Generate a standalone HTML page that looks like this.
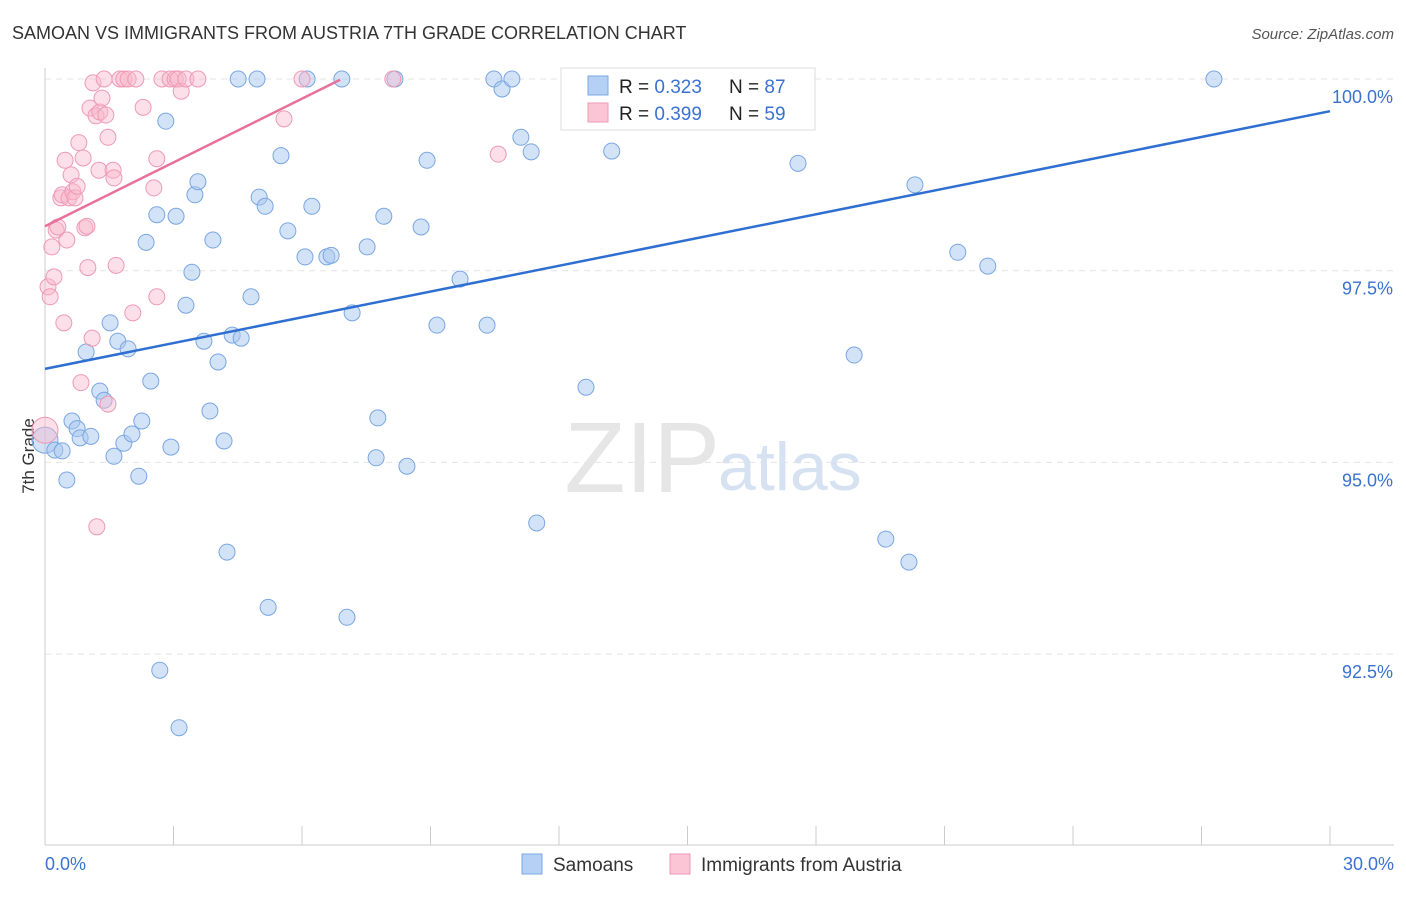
<!DOCTYPE html>
<html><head><meta charset="utf-8"><style>
body{margin:0;background:#fff;font-family:"Liberation Sans",sans-serif;}
svg text{font-family:"Liberation Sans",sans-serif;}
</style></head><body>
<svg id="chart" width="1406" height="892">
<text x="12" y="39" font-size="18" fill="#333">SAMOAN VS IMMIGRANTS FROM AUSTRIA 7TH GRADE CORRELATION CHART</text>
<text x="1394" y="39" font-size="15" fill="#555" text-anchor="end" font-style="italic">Source: ZipAtlas.com</text>
<text x="34" y="456" font-size="17" fill="#333" transform="rotate(-90 34 456)" text-anchor="middle">7th Grade</text>
<g id="grid"></g>
<text x="720" y="492" font-size="100" fill="#e6e6e6" text-anchor="end" font-family="Liberation Serif">ZIP</text>
<text x="718" y="490" font-size="68" fill="#d6e2f2">atlas</text>
<g id="pts"></g>
<g id="lines"></g>
<g>
<rect x="561" y="68" width="254" height="62" fill="#fff" stroke="#ddd"/>
<rect x="588" y="76" width="20" height="19" fill="#b5d0f5" stroke="#7aa8e6"/>
<rect x="588" y="103" width="20" height="19" fill="#fbc5d5" stroke="#ef9ab6"/>
<text x="619" y="93" font-size="19" fill="#222">R = <tspan fill="#3b72d0">0.323</tspan></text>
<text x="729" y="93" font-size="19" fill="#222">N = <tspan fill="#3b72d0">87</tspan></text>
<text x="619" y="120" font-size="19" fill="#222">R = <tspan fill="#3b72d0">0.399</tspan></text>
<text x="729" y="120" font-size="19" fill="#222">N = <tspan fill="#3b72d0">59</tspan></text>
</g>
<g>
<rect x="522" y="854" width="20" height="20" fill="#b5d0f5" stroke="#7aa8e6"/>
<text x="553" y="871" font-size="19" fill="#333">Samoans</text>
<rect x="670" y="854" width="20" height="20" fill="#fbc5d5" stroke="#ef9ab6"/>
<text x="701" y="871" font-size="19" fill="#333">Immigrants from Austria</text>
</g>
</svg>
<script>
const xTickVals=[0,3,6,9,12,15,18,21,24,27,30];
const yTickVals=[92.5,95,97.5,100];
const yTickLabels=["92.5%","95.0%","97.5%","100.0%"];
const samoanX=[0,0.23,0.4,0.51,0.63,0.75,0.82,1.07,0.96,1.28,1.38,1.52,1.61,1.7,1.84,1.94,2.03,2.19,2.26,2.36,2.47,2.61,2.68,2.82,2.94,3.06,3.13,3.29,3.43,3.5,3.57,3.71,3.85,3.92,4.04,4.18,4.25,4.37,4.51,4.58,4.81,4.95,5.0,5.14,5.21,5.51,5.67,6.07,6.12,6.23,6.58,6.68,6.93,7.05,7.17,7.52,7.73,7.77,7.91,8.17,8.45,8.78,8.92,9.15,9.69,10.32,10.48,10.67,10.9,11.11,11.35,11.48,12.35,12.63,13.23,14.01,14.96,17.58,18.89,19.63,20.17,20.31,21.31,22.01,27.29];
const samoanY=[95.29,95.16,95.15,94.77,95.54,95.44,95.32,95.34,96.44,95.93,95.81,96.82,95.08,96.58,95.25,96.48,95.37,94.82,95.54,97.87,96.06,98.23,92.29,99.45,95.2,98.21,91.54,97.05,97.48,98.49,98.66,96.58,95.67,97.9,96.31,95.28,93.83,96.66,100,96.62,97.16,100,98.46,98.34,93.11,99.0,98.02,97.68,100,98.34,97.68,97.7,100,92.98,96.95,97.81,95.06,95.58,98.21,100,94.95,98.07,98.94,96.79,97.39,96.79,100,99.87,100,99.24,99.05,94.21,100,95.98,99.06,100,100,98.9,96.4,94.0,93.7,98.62,97.74,97.56,100];
const austriaX=[0,0.07,0.12,0.16,0.21,0.26,0.3,0.37,0.4,0.44,0.47,0.51,0.56,0.61,0.65,0.7,0.75,0.79,0.84,0.89,0.93,0.98,1.0,1.05,1.1,1.12,1.19,1.21,1.26,1.28,1.33,1.38,1.42,1.47,1.47,1.59,1.61,1.66,1.75,1.84,1.94,2.05,2.12,2.29,2.54,2.61,2.61,2.73,2.92,3.04,3.11,3.18,3.29,3.57,5.58,6.0,8.12,10.58];
const austriaY=[95.42,97.29,97.16,97.81,97.42,98.03,98.07,98.45,98.49,96.82,98.94,97.9,98.45,98.75,98.53,98.45,98.6,99.17,96.04,98.97,98.06,98.08,97.54,99.62,96.62,99.95,99.52,94.16,98.81,99.57,99.75,100,99.53,95.76,99.24,98.81,98.71,97.57,100,100,100,96.95,100,99.63,98.58,97.16,98.96,100,100,100,100,99.84,100,100,99.48,100,100,99.02];
const samoanTrendX=[0,30];
const samoanTrendY=[96.22,99.58];
const austriaTrendX=[0,6.89];
const austriaTrendY=[98.08,99.99];
const svg=document.getElementById('chart');
const NS='http://www.w3.org/2000/svg';
const X0=45,X1=1330,Y100=79,PX_PER_PCT=76.68;
function sx(v){return X0+(v/30)*(X1-X0);}
function sy(v){return Y100+(100-v)*PX_PER_PCT;}
function mk(t,a,p){const e=document.createElementNS(NS,t);for(const k in a)e.setAttribute(k,a[k]);p.appendChild(e);return e;}
const grid=document.getElementById('grid');
yTickVals.forEach((v,i)=>{
 const l=mk('line',{x1:X0,x2:1394,y1:sy(v),y2:sy(v),stroke:'#e4e4e4','stroke-dasharray':'6,5'},grid);
 
 
 const t=mk('text',{x:1393,y:sy(v)+24,'font-size':18,fill:'#3b72d0','text-anchor':'end'},grid);t.textContent=yTickLabels[i];
 
 
});
const ax=mk('line',{x1:X0,x2:1394,y1:845,y2:845,stroke:'#ccc'},grid);


const ay=mk('line',{x1:X0,x2:X0,y1:68,y2:845,stroke:'#ccc'},grid);


xTickVals.forEach(v=>{
 const l=mk('line',{x1:sx(v),x2:sx(v),y1:826,y2:845,stroke:'#ccc'},grid);
 
 
});
let t=mk('text',{x:45,y:870,'font-size':18,fill:'#3b72d0'},grid);t.textContent='0.0%';


t=mk('text',{x:1394,y:870,'font-size':18,fill:'#3b72d0','text-anchor':'end'},grid);t.textContent='30.0%';


const pts=document.getElementById('pts');
samoanX.forEach((x,i)=>{
 const c=mk('circle',{cx:sx(x),cy:sy(samoanY[i]),r:i==0?13:8,fill:'rgba(168,200,240,0.5)',stroke:'#7aa6e2','stroke-width':1},pts);
 
 
});
austriaX.forEach((x,i)=>{
 const c=mk('circle',{cx:sx(x),cy:sy(austriaY[i]),r:i==0?13:8,fill:'rgba(248,185,205,0.45)',stroke:'#ee9ab6','stroke-width':1},pts);
 
 
});
const lines=document.getElementById('lines');
const bl=mk('line',{x1:sx(samoanTrendX[0]),y1:sy(samoanTrendY[0]),x2:sx(samoanTrendX[1]),y2:sy(samoanTrendY[1]),stroke:'#2e6fd1','stroke-width':2.5},lines);


const pl=mk('line',{x1:sx(austriaTrendX[0]),y1:sy(austriaTrendY[0]),x2:sx(austriaTrendX[1]),y2:sy(austriaTrendY[1]),stroke:'#e8709a','stroke-width':2.5},lines);


</script>
</body></html>
